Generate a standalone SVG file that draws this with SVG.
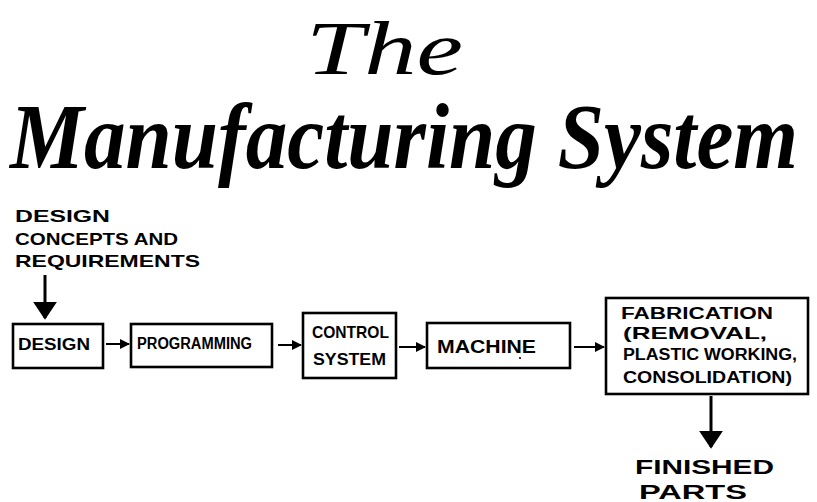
<svg xmlns="http://www.w3.org/2000/svg" width="817" height="502" viewBox="0 0 817 502">
  <defs>
    <marker id="head" viewBox="0 0 10 10" refX="9" refY="5" markerWidth="10" markerHeight="10" markerUnits="userSpaceOnUse" orient="auto">
      <path d="M0,0 L10,5 L0,10 Z" fill="#000"/>
    </marker>
    <marker id="bighead" viewBox="0 0 10 10" refX="9" refY="5" markerWidth="18" markerHeight="24" markerUnits="userSpaceOnUse" orient="auto" preserveAspectRatio="none">
      <path d="M0,0 L10,5 L0,10 Z" fill="#000"/>
    </marker>
  </defs>
  <style>
    .title { font-family: "Liberation Serif", "DejaVu Serif", serif; font-style: italic; fill: #000; }
    .lbl { font-family: "Liberation Sans", "DejaVu Sans", sans-serif; font-weight: bold; fill: #000; }
    .box { fill: #fff; stroke: #000; stroke-width: 2.6; }
    .conn { stroke: #000; stroke-width: 2; fill: none; }
    .thick { stroke: #000; stroke-width: 3; fill: none; }
  </style>
  <rect width="817" height="502" fill="#fff"/>

  <!-- heading -->
  <g id="heading">
    <text class="title" x="306" y="74" font-size="76" textLength="157" lengthAdjust="spacingAndGlyphs">The</text>
    <text class="title" x="10" y="168" font-size="94" font-weight="bold" textLength="788" lengthAdjust="spacingAndGlyphs">Manufacturing System</text>
  </g>

  <!-- input label -->
  <g id="input">
    <text class="lbl" x="15" y="222" font-size="17" textLength="95" lengthAdjust="spacingAndGlyphs">DESIGN</text>
    <text class="lbl" x="15" y="245" font-size="17" textLength="163" lengthAdjust="spacingAndGlyphs">CONCEPTS AND</text>
    <text class="lbl" x="15" y="267" font-size="17" textLength="185" lengthAdjust="spacingAndGlyphs">REQUIREMENTS</text>
  </g>

  <g id="design">
    <rect class="box" x="13" y="324" width="90" height="44"/>
    <text class="lbl" x="18" y="350" font-size="17" textLength="72" lengthAdjust="spacingAndGlyphs">DESIGN</text>
  </g>

  <g id="programming">
    <rect class="box" x="131" y="324" width="141" height="43"/>
    <text class="lbl" x="137" y="349" font-size="16" textLength="115" lengthAdjust="spacingAndGlyphs">PROGRAMMING</text>
  </g>

  <g id="control-system">
    <rect class="box" x="303" y="313" width="93" height="65"/>
    <text class="lbl" x="312" y="338" font-size="17" textLength="77" lengthAdjust="spacingAndGlyphs">CONTROL</text>
    <text class="lbl" x="313" y="365" font-size="17" textLength="73" lengthAdjust="spacingAndGlyphs">SYSTEM</text>
  </g>

  <g id="machine">
    <rect class="box" x="427" y="323" width="143" height="45"/>
    <text class="lbl" x="437" y="353" font-size="18" textLength="99" lengthAdjust="spacingAndGlyphs">MACHINE</text>
    <circle cx="520" cy="358" r="1.1" fill="#000"/>
  </g>

  <g id="fabrication">
    <rect class="box" x="606" y="298" width="202" height="96"/>
    <text class="lbl" x="621" y="319" font-size="16" textLength="152" lengthAdjust="spacingAndGlyphs">FABRICATION</text>
    <text class="lbl" x="623" y="339" font-size="17" textLength="144" lengthAdjust="spacingAndGlyphs">(REMOVAL,</text>
    <text class="lbl" x="623" y="360" font-size="16" textLength="174" lengthAdjust="spacingAndGlyphs">PLASTIC WORKING,</text>
    <text class="lbl" x="623" y="383" font-size="17" textLength="169" lengthAdjust="spacingAndGlyphs">CONSOLIDATION)</text>
  </g>

  <!-- output label -->
  <g id="output">
    <text class="lbl" x="635" y="474" font-size="20" textLength="139" lengthAdjust="spacingAndGlyphs">FINISHED</text>
    <text class="lbl" x="639" y="499" font-size="21" textLength="108" lengthAdjust="spacingAndGlyphs">PARTS</text>
  </g>

  <!-- connectors -->
  <g id="connectors">
    <line class="thick" x1="45" y1="275" x2="45" y2="318" marker-end="url(#bighead)"/>
    <line class="conn" x1="106" y1="344" x2="129" y2="344" marker-end="url(#head)"/>
    <line class="conn" x1="278" y1="345" x2="301" y2="345" marker-end="url(#head)"/>
    <line class="conn" x1="399" y1="347" x2="425" y2="347" marker-end="url(#head)"/>
    <line class="conn" x1="574" y1="347" x2="604" y2="347" marker-end="url(#head)"/>
    <line class="thick" x1="711" y1="396" x2="711" y2="447" marker-end="url(#bighead)"/>
  </g>
</svg>
